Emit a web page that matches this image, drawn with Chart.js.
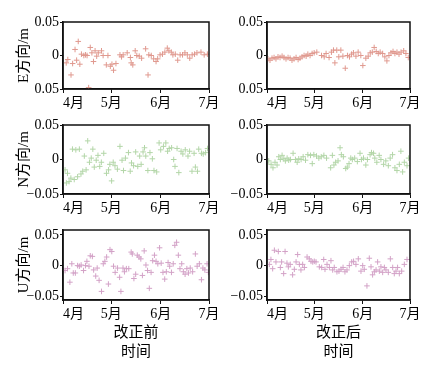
<!DOCTYPE html>
<html>
<head>
<meta charset="utf-8">
<script src="https://cdn.jsdelivr.net/npm/chart.js@4/dist/chart.umd.min.js"></script>
<style>
  body { margin: 0; background: #fff; }
  #wrap { position: relative; width: 431px; height: 368px; }
  canvas { position: absolute; }
</style>
</head>
<body>
<div id="wrap">
  <canvas id="eBefore" width="225" height="112" style="left:0;top:0"></canvas>
  <canvas id="eAfter"  width="206" height="112" style="left:225px;top:0"></canvas>
  <canvas id="nBefore" width="225" height="105" style="left:0;top:112px"></canvas>
  <canvas id="nAfter"  width="206" height="105" style="left:225px;top:112px"></canvas>
  <canvas id="uBefore" width="225" height="151" style="left:0;top:217px"></canvas>
  <canvas id="uAfter"  width="206" height="151" style="left:225px;top:217px"></canvas>
</div>
<script>
// days counted from 1 April
const monthDays   = [0, 30, 61, 91]
const monthLabels = ["4月", "5月", "6月", "7月"]
const yTicks      = [-0.05, 0, 0.05]
const eTickLabels = ["0.05", "0", "0.05"]
const yTickLabels = ["−0.05", "0", "0.05"]

const eBeforeDays = [2, 3, 5, 6, 7.5, 8.5, 9.5, 10.5, 11.5, 13, 14, 15, 16, 17, 18, 19, 20, 21, 22, 24, 25, 27, 28, 29.5, 30.5, 31.5, 33, 35.5, 36.5, 37.5, 40, 42, 42.5, 43.5, 45, 46, 47.5, 49, 51.5, 53, 53.5, 55, 56.5, 58, 59, 60.5, 62, 63.5, 65, 66, 67.5, 68.5, 70, 71.5, 73, 74.5, 76, 77.5, 79, 80.5, 82, 83.5, 86, 88, 90]
const eBeforeVals = [-0.011, -0.006, -0.029, -0.012, 0.009, -0.007, 0.021, -0.013, 0.002, 0, 0.001, 0, -0.048, 0.012, 0.004, -0.009, 0.007, -0.001, 0.004, 0.007, 0, -0.014, 0, -0.016, -0.013, -0.022, -0.012, 0.001, -0.002, 0.001, 0.004, -0.003, -0.011, -0.014, 0.007, 0, -0.001, -0.004, 0.01, -0.029, 0.001, 0, -0.005, -0.009, -0.005, 0.001, 0.002, 0.005, 0.011, 0.007, 0.005, 0.001, 0.002, -0.007, 0.001, 0.001, 0.004, 0.001, -0.004, 0.001, 0.002, 0.004, 0.005, 0.001, 0.002]

const eAfterDays = [0.6, 1.9, 3.2, 4.5, 5.7, 7, 8.3, 9.6, 10.8, 12.1, 13.4, 14.7, 15.9, 17.2, 18.5, 19.8, 21, 22.3, 23.6, 24.9, 26, 27.4, 28.7, 30, 31.7, 34.7, 36.4, 37.6, 39.5, 41, 42.3, 43.2, 44.4, 45.7, 47, 48.3, 49.8, 51.2, 52.5, 53.8, 55, 56.6, 58, 59.7, 61, 62.9, 64.4, 65.7, 67, 68.2, 69.5, 70.8, 72, 73.6, 75, 76.3, 77.6, 78.9, 80.2, 81.4, 82.7, 84, 85.3, 87, 88.4, 89.9]
const eAfterVals = [-0.005, -0.007, -0.004, -0.003, -0.005, -0.002, -0.003, -0.001, -0.003, -0.005, -0.003, -0.004, -0.007, -0.005, -0.003, -0.006, -0.004, -0.002, 0, -0.001, 0.002, 0, 0.003, 0.004, 0.005, 0, -0.002, 0.003, -0.003, 0.005, 0.008, -0.011, 0.008, -0.002, 0.008, -0.001, -0.019, 0, -0.002, 0.002, 0.004, -0.001, 0.005, 0, -0.015, -0.004, -0.001, 0.004, 0.005, 0.012, 0.006, 0.003, 0.005, 0.003, -0.002, -0.008, 0, 0.004, 0.006, 0.003, 0.005, 0.002, 0.005, 0.007, 0.003, -0.003]

const nBeforeDays = [1.3, 2.1, 2.8, 3.8, 4.9, 5.9, 7, 8, 9.1, 10.2, 11.2, 12.3, 13.3, 14.4, 15.4, 16.5, 17.6, 18.6, 19.5, 20.7, 21.8, 22.9, 23.9, 25.4, 27.1, 28.4, 29.2, 30.3, 31.3, 32.4, 33.9, 35.5, 36.8, 37.7, 38.9, 40.8, 41.9, 42.7, 44, 45.3, 46.6, 47.8, 48.7, 49.9, 50.8, 51.6, 52.9, 54.2, 55.7, 56.7, 58.4, 59.9, 60.9, 62.6, 64.1, 65.2, 66.2, 67.7, 69, 69.8, 71.1, 72.2, 73.6, 74.7, 76.2, 77.9, 78.9, 80.4, 81.7, 82.5, 83.8, 84.6, 86.3, 87.4, 88.9, 90.1]
const nBeforeVals = [-0.015, -0.034, -0.020, -0.032, -0.027, 0.015, -0.029, 0.014, -0.025, 0.015, -0.021, -0.017, 0.005, -0.015, 0.027, -0.004, 0.002, 0.015, -0.011, -0.001, 0.006, -0.010, -0.004, 0.009, -0.020, -0.015, -0.007, -0.031, -0.004, -0.009, -0.014, 0.019, -0.001, -0.016, 0.002, 0.010, -0.017, -0.005, -0.009, 0.011, -0.010, 0.005, -0.007, 0.011, 0.017, 0.005, -0.016, 0.010, 0.001, -0.016, -0.018, 0.024, 0.014, 0.019, 0.024, 0.012, 0.016, 0.017, 0, -0.010, 0.016, -0.019, 0.012, 0.008, 0.014, 0.005, 0.012, -0.017, 0.009, -0.011, -0.017, 0.015, 0.009, 0.008, 0.010, 0.016]

const nAfterDays = [1.1, 2.6, 3.8, 5.1, 6.4, 7.5, 8.5, 9.6, 10.7, 11.7, 12.8, 13.8, 14.9, 16.6, 18.1, 19.2, 20.2, 21.7, 23, 24.5, 26, 27.7, 28.8, 29.8, 31.5, 33, 34.5, 36.2, 37.9, 40.5, 41.6, 42.6, 43.7, 45.2, 46.5, 47.3, 48.6, 50.1, 51.1, 52.2, 53.3, 54.3, 55.8, 57.5, 59.2, 60.1, 61.4, 62.9, 63.9, 65.6, 66.5, 67.8, 68.6, 69.9, 71.4, 72.5, 74.2, 75.6, 77.2, 78.4, 79.9, 81.4, 82.7, 84.2, 85.2, 86.3, 87.4, 89.1, 90.1]
const nAfterVals = [-0.002, -0.007, -0.012, -0.004, -0.008, 0.004, 0, 0.006, 0.001, -0.002, 0.002, -0.001, 0, 0.009, 0, -0.004, 0.001, 0, 0.004, -0.001, 0.007, 0.006, -0.006, 0.007, 0.005, 0.002, 0.004, 0.006, 0.002, -0.012, 0.006, -0.008, -0.004, -0.002, 0.017, 0.007, 0.004, -0.013, -0.011, -0.006, 0.002, 0, 0.002, -0.003, 0.009, 0, 0.002, -0.008, 0, 0.007, 0.010, 0.009, 0.002, -0.004, 0.006, 0, -0.007, -0.002, -0.009, 0.002, 0.007, -0.012, -0.016, -0.007, 0.012, -0.018, -0.004, -0.009, 0.002]

const uBeforeDays = [1.3, 2.8, 4.3, 5.5, 6.4, 7.7, 9.1, 10.2, 11.3, 12.8, 14, 14.9, 16.2, 17, 18.3, 19.1, 20.4, 21.3, 22.5, 24, 25.1, 26.1, 27.2, 28.3, 29.3, 30.4, 31.5, 32.5, 34, 35.3, 36.1, 37.4, 38.3, 39.5, 41, 42.5, 43.2, 44.2, 45.3, 46.3, 47.4, 48.5, 49.5, 50.6, 51.7, 52.7, 53.8, 54.9, 55.9, 57, 58, 59.1, 60.2, 61.2, 62.3, 63.4, 64.4, 65.5, 66.5, 67.6, 68.7, 69.7, 70.8, 71.9, 72.9, 74, 75, 76.1, 77.2, 78.2, 79.3, 80.8, 82.5, 83.6, 85, 86.3, 87.2, 88.4, 89.8, 90.6]
const uBeforeVals = [-0.008, -0.005, -0.027, 0.003, -0.012, -0.012, 0, -0.001, 0.001, -0.008, 0, 0.007, -0.001, 0.016, 0.015, -0.007, -0.017, -0.004, -0.024, -0.042, 0.003, 0.007, 0.014, -0.030, 0.026, 0.023, -0.001, -0.011, -0.004, -0.019, -0.042, -0.004, -0.010, -0.005, -0.005, 0.022, 0.019, -0.021, -0.014, 0.017, 0.014, 0.011, -0.016, 0.024, 0.001, -0.008, -0.037, -0.011, 0.008, 0.017, 0.007, 0.003, 0.029, 0.004, -0.011, -0.022, -0.010, 0.005, -0.001, -0.011, 0.003, 0.033, 0.038, 0.017, -0.005, 0.003, -0.010, -0.014, -0.005, -0.012, -0.004, -0.010, 0.019, -0.001, 0.003, -0.023, -0.004, -0.007, 0.003, -0.011]

const uAfterDays = [1.5, 2.5, 3.6, 4.7, 5.7, 7.2, 8.5, 9.3, 10.6, 11.5, 12.7, 13.6, 14.8, 16.3, 17.4, 18.5, 19.5, 20.6, 21.6, 22.7, 23.8, 25.5, 26.9, 28, 29.1, 30.1, 31.2, 33.3, 34.8, 36.1, 36.9, 38.2, 39.7, 40.7, 41.8, 42.8, 44.5, 45.8, 47.1, 48.4, 49.6, 50.9, 52.4, 53.9, 55.1, 56.6, 58.1, 59.8, 60.9, 61.9, 63.6, 65.1, 66.2, 67.2, 68.3, 69.4, 70.4, 71.5, 72.5, 73.6, 74.7, 75.7, 77.2, 78.5, 80, 81, 82.1, 83.1, 84.2, 85.7, 87.4, 89.1]
const uAfterVals = [0.002, 0.010, -0.005, 0.025, 0.006, 0.023, -0.003, 0.006, -0.013, 0.023, 0.004, -0.002, 0.002, -0.015, -0.006, 0.006, 0.018, 0.002, -0.007, 0.002, -0.003, 0.014, 0.011, 0.007, 0.006, 0.007, 0.006, -0.002, -0.003, 0.010, -0.006, 0.002, -0.003, 0.008, -0.007, -0.003, -0.010, -0.009, -0.006, -0.003, -0.010, -0.007, 0, 0.006, 0.007, 0.002, 0.011, -0.009, 0, -0.006, -0.033, 0.012, -0.002, -0.015, -0.010, -0.007, 0.006, -0.009, -0.002, -0.011, -0.003, -0.007, -0.011, 0.011, -0.003, -0.013, -0.009, -0.003, -0.013, -0.009, 0.002, 0.010]

const serif = "'Liberation Serif', 'Noto Sans CJK SC', serif"
const ink   = "#111"

// box round the plot area (Chart.js only draws the left and bottom edges)
const frame = {
  id: "frame",
  afterDraw(chart) {
    const { ctx, chartArea: a } = chart
    ctx.save()
    ctx.strokeStyle = ink
    ctx.lineWidth = 1.5
    ctx.strokeRect(a.left, a.top, a.right - a.left, a.bottom - a.top)
    ctx.restore()
  }
}

function panel(id, days, vals, color, o) {
  new Chart(document.getElementById(id), {
    type: "scatter",
    data: {
      datasets: [{
        data: days.map((d, i) => ({ x: d, y: vals[i] })),
        pointStyle: "cross",
        pointRadius: 2.8,
        borderColor: color,
        borderWidth: 1
      }]
    },
    options: {
      responsive: false,
      animation: false,
      events: [],
      layout: { padding: { top: o.top, right: o.right, left: 0, bottom: 0 } },
      plugins: { legend: { display: false }, tooltip: { enabled: false } },
      scales: {
        x: {
          type: "linear", min: 0, max: 91,
          afterBuildTicks: s => { s.ticks = monthDays.map(v => ({ value: v })) },
          afterFit: s => { s.height = o.xh },
          ticks: {
            autoSkip: false, maxRotation: 0, padding: 2, color: "#000",
            font: { family: serif, size: 14 },
            callback: (v, i) => (i === 0 ? "      " : "") + monthLabels[i]
          },
          grid:   { drawOnChartArea: false, tickLength: 4, color: ink },
          border: { color: ink, width: 1.5 },
          title: o.xTitle
            ? { display: true, text: o.xTitle, color: "#000",
                font: { family: serif, size: 15, lineHeight: 1.3 },
                padding: { top: 0, bottom: 6 } }
            : { display: false }
        },
        y: {
          min: o.min, max: o.max,
          afterBuildTicks: s => { s.ticks = yTicks.map(v => ({ value: v })) },
          afterFit: s => { s.width = o.yw },
          ticks: {
            padding: 1, color: "#000",
            font: { family: serif, size: 14 },
            callback: (v, i) => o.yLabels[i]
          },
          grid:   { drawOnChartArea: false, tickLength: 3, color: ink },
          border: { color: ink, width: 1.5 },
          title: o.yTitle
            ? { display: true, text: o.yTitle, color: "#000",
                font: { family: serif, size: 15 },
                padding: { top: 15, bottom: 0 } }
            : { display: false }
        }
      }
    },
    plugins: [frame]
  })
}

const eColor = "#e0998f"
const nColor = "#b3d6a8"
const uColor = "#d3a2c7"

const left  = { yw: 63, right: 16 }
const right = { yw: 42, right: 21 }
const row1 = { top: 22, xh: 23 }
const row2 = { top: 13, xh: 23 }
const row3 = { top: 13, xh: 68 }

panel("eBefore", eBeforeDays, eBeforeVals, eColor, { ...left,  ...row1, min: -0.05, max: 0.05, yLabels: eTickLabels, yTitle: "E方向/m" })
panel("eAfter",  eAfterDays,  eAfterVals,  eColor, { ...right, ...row1, min: -0.05, max: 0.05, yLabels: eTickLabels })
panel("nBefore", nBeforeDays, nBeforeVals, nColor, { ...left,  ...row2, min: -0.05, max: 0.05, yLabels: yTickLabels, yTitle: "N方向/m" })
panel("nAfter",  nAfterDays,  nAfterVals,  nColor, { ...right, ...row2, min: -0.05, max: 0.05, yLabels: yTickLabels })
panel("uBefore", uBeforeDays, uBeforeVals, uColor, { ...left,  ...row3, min: -0.056, max: 0.058, yLabels: yTickLabels, yTitle: "U方向/m", xTitle: ["改正前", "时间"] })
panel("uAfter",  uAfterDays,  uAfterVals,  uColor, { ...right, ...row3, min: -0.056, max: 0.058, yLabels: yTickLabels, xTitle: ["改正后", "时间"] })
</script>
</body>
</html>
